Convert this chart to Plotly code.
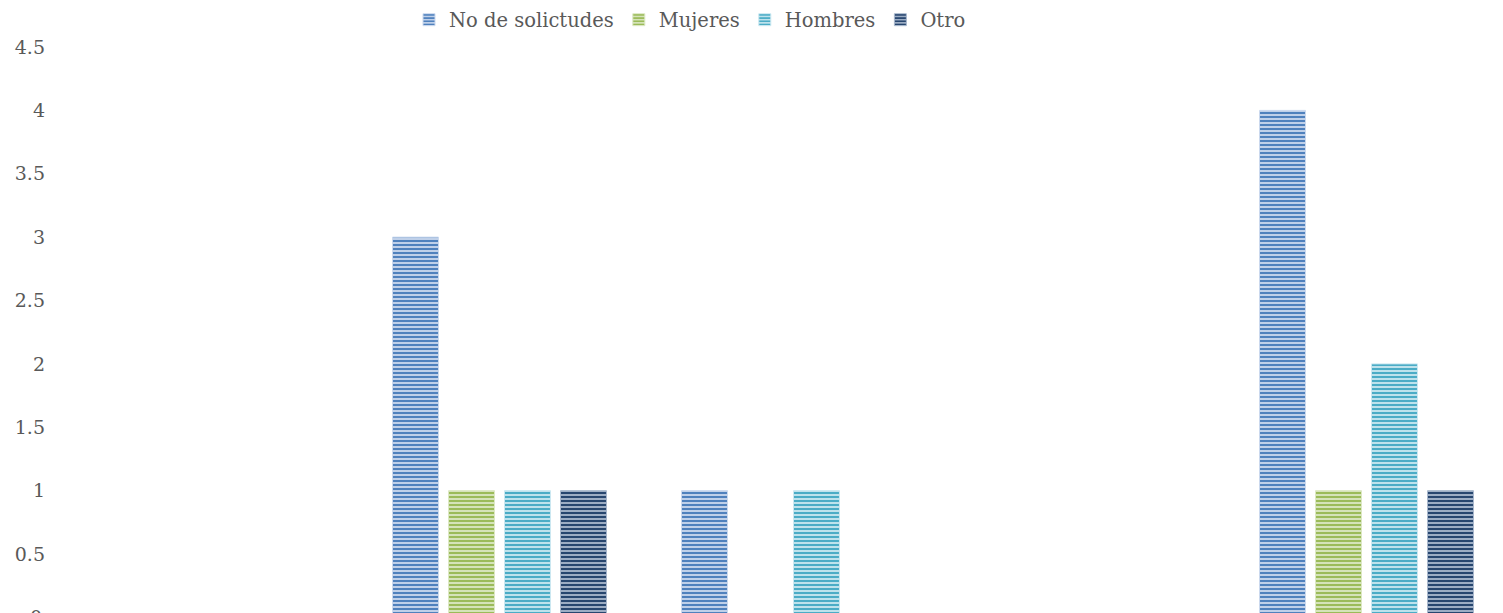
import plotly.graph_objects as go

categories = ["Categoría 1", "Categoría 2", "Categoría 3", "Categoría 4", "Categoría 5"]
series_names = ["No de solictudes", "Mujeres", "Hombres", "Otro"]
solicitudes = [0, 3, 1, 0, 4]
mujeres = [0, 1, 0, 0, 1]
hombres = [0, 1, 1, 0, 2]
otro = [0, 1, 0, 0, 1]
y_ticks = [0.5, 1, 1.5, 2, 2.5, 3, 3.5, 4, 4.5]

values = [solicitudes, mujeres, hombres, otro]
dark = ["#4F81BD", "#9BBB59", "#4BACC6", "#27466F"]
light = ["#CBD9EE", "#DCE8C4", "#CBE8F1", "#A9B8CD"]

# the page body has an 8px default margin: lay the figure out so the
# plot fills the window exactly as in the reference
OFF = 8
W, H = 1503 - OFF, 613 - OFF
left = 66 - OFF
top = 47 - OFF
cat_px = 289
px_per_unit = 126.75

fig = go.Figure()
for name, vals, dc, lc in zip(series_names, values, dark, light):
    fig.add_trace(go.Bar(
        x=list(range(len(categories))), y=vals, name=name,
        marker=dict(color=lc, line=dict(color=lc, width=1),
                    pattern=dict(shape="-", size=4, solidity=0.55,
                                 fgcolor=dc, bgcolor=lc, fgopacity=1,
                                 fillmode="replace")),
    ))

font = dict(family="DejaVu Serif", size=19, color="#595959")
legend_font = dict(family="DejaVu Serif", size=19.5, color="#595959")
# the reference is cropped: the zero line sits ~4px below the window edge
ybottom = (617.4 - 613) / px_per_unit

fig.update_layout(
    width=W, height=H,
    margin=dict(l=left, r=0, t=top, b=0, autoexpand=False),
    paper_bgcolor="white", plot_bgcolor="white",
    barmode="group", bargap=0.225, bargroupgap=0.179,
    font=font,
    showlegend=True,
    legend=dict(orientation="h", xref="container", yref="container",
                x=(690 - OFF) / W, y=1 - (20 - OFF) / H, xanchor="center", yanchor="middle",
                font=legend_font, itemwidth=30, tracegroupgap=0,
                bgcolor="rgba(0,0,0,0)"),
    xaxis=dict(range=[-0.5, -0.5 + (1503 - 66) / cat_px], showgrid=False,
               zeroline=False, showline=False, showticklabels=False,
               tickvals=list(range(len(categories))), ticktext=categories),
    yaxis=dict(range=[ybottom, 4.5], tickvals=y_ticks,
               ticktext=[f"{v:g}" for v in y_ticks], showgrid=False,
               zeroline=False, showline=False, ticks="",
               ticklabelstandoff=20, tickfont=font),
)
# partially visible "0" tick label at the cropped bottom edge
fig.add_annotation(text="0", xref="paper", yref="paper", x=0, y=(0 - ybottom) / (4.5 - ybottom),
                   xanchor="right", yanchor="middle", xshift=-22, showarrow=False, font=font)

fig.write_html("out.html")
